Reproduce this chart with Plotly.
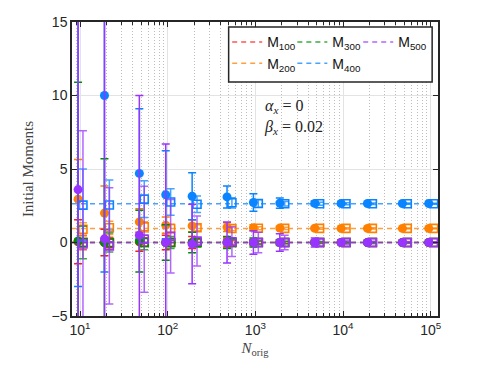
import plotly.graph_objects as go

# sample sizes
N = [10, 20, 50, 100, 200, 500, 1000, 2000, 5000, 10000, 20000, 50000, 100000]

# true moment values (dashed lines)
true_vals = {"100": 0.0, "200": 0.96, "300": 0.0, "400": 2.64, "500": 0.0}

# filled circles: mean estimate and error
circ_100 = [0.05, 0.0, 0.05, 0.0, 0.0, 0.0, 0.0, 0.0, 0.0, 0.0, 0.0, 0.0, 0.0]
circ_err_100 = [1.5, 0.9, 0.65, 0.5, 0.4, 0.3, 0.2, 0.15, 0.1, 0.07, 0.05, 0.03, 0.02]
circ_200 = [2.95, 2.0, 1.4, 1.18, 1.13, 1.05, 1.0, 0.98, 0.97, 0.96, 0.96, 0.96, 0.96]
circ_err_200 = [2.7, 1.85, 0.9, 0.55, 0.4, 0.3, 0.2, 0.12, 0.08, 0.05, 0.04, 0.03, 0.02]
circ_300 = [0.1, 0.0, 0.1, 0.0, 0.0, 0.0, 0.0, 0.0, 0.0, 0.0, 0.0, 0.0, 0.0]
circ_err_300 = [10.8, 5.7, 2.1, 1.2, 0.7, 0.4, 0.3, 0.2, 0.1, 0.07, 0.05, 0.03, 0.02]
circ_400 = [22.0, 10.0, 4.7, 3.25, 3.15, 3.1, 2.72, 2.68, 2.66, 2.65, 2.65, 2.65, 2.65]
circ_err_400 = [25.0, 12.0, 4.4, 3.0, 1.6, 0.75, 0.6, 0.35, 0.15, 0.1, 0.07, 0.05, 0.03]
circ_500 = [3.6, 0.25, 0.5, 0.0, -0.1, 0.0, 0.0, 0.0, 0.0, 0.0, 0.0, 0.0, 0.0]
circ_err_500 = [40.0, 25.0, 9.5, 6.7, 2.7, 1.4, 0.8, 0.6, 0.3, 0.15, 0.1, 0.07, 0.05]

# open squares: estimate and error
sq_100 = [0.0, -0.05, 0.02, 0.0, 0.0, 0.0, 0.0, 0.0, 0.0, 0.0, 0.0, 0.0, 0.0]
sq_err_100 = [0.5, 0.4, 0.3, 0.25, 0.2, 0.12, 0.08, 0.06, 0.04, 0.03, 0.02, 0.02, 0.01]
sq_200 = [0.9, 1.0, 1.06, 0.95, 1.0, 0.95, 0.97, 0.96, 0.96, 0.96, 0.96, 0.96, 0.96]
sq_err_200 = [0.45, 0.45, 0.35, 0.3, 0.2, 0.15, 0.1, 0.08, 0.06, 0.05, 0.04, 0.03, 0.02]
sq_300 = [0.0, 0.0, 0.0, 0.0, 0.0, 0.0, 0.0, 0.0, 0.0, 0.0, 0.0, 0.0, 0.0]
sq_err_300 = [1.1, 0.65, 0.5, 0.4, 0.3, 0.2, 0.12, 0.08, 0.06, 0.04, 0.03, 0.02, 0.02]
sq_400 = [2.54, 2.55, 2.95, 2.76, 2.6, 2.7, 2.65, 2.64, 2.64, 2.64, 2.64, 2.64, 2.64]
sq_err_400 = [2.46, 1.7, 1.25, 0.9, 0.56, 0.35, 0.25, 0.15, 0.1, 0.07, 0.05, 0.04, 0.03]
sq_500 = [-0.1, -0.23, 0.22, 0.43, 0.1, 0.05, 0.0, 0.0, 0.0, 0.0, 0.0, 0.0, 0.0]
sq_err_500 = [7.7, 3.95, 3.6, 2.5, 1.7, 1.0, 0.7, 0.5, 0.25, 0.12, 0.08, 0.06, 0.04]

x_ticks = [10, 100, 1000, 10000, 100000]
x_tick_text = ["10<sup>1</sup>", "10<sup>2</sup>", "10<sup>3</sup>", "10<sup>4</sup>", "10<sup>5</sup>"]
y_ticks = [-5, 0, 5, 10, 15]
x_lim = [8.1, 1.21e5]

colors = {"100": "#FF1A1A", "200": "#FF8000", "300": "#008C00", "400": "#0A84FF", "500": "#9933FF"}
light = {"100": "rgba(255,26,26,0.75)", "200": "rgba(255,128,0,0.75)", "300": "rgba(0,140,0,0.75)",
         "400": "rgba(10,132,255,0.75)", "500": "rgba(153,51,255,0.75)"}
# legend columns: (M100, M200) (M300, M400) (M500)
legend_of = {"100": "legend", "200": "legend", "300": "legend2", "400": "legend2", "500": "legend3"}

circ = {"100": (circ_100, circ_err_100), "200": (circ_200, circ_err_200), "300": (circ_300, circ_err_300),
        "400": (circ_400, circ_err_400), "500": (circ_500, circ_err_500)}
sq = {"100": (sq_100, sq_err_100), "200": (sq_200, sq_err_200), "300": (sq_300, sq_err_300),
      "400": (sq_400, sq_err_400), "500": (sq_500, sq_err_500)}

x_circ = [n * 0.95 for n in N]
x_sq = [n * 1.08 for n in N]

fig = go.Figure()

# dashed true-value lines (also the legend entries)
for k in ["100", "200", "300", "400", "500"]:
    fig.add_trace(go.Scatter(
        x=x_lim, y=[true_vals[k]] * 2, mode="lines",
        line=dict(color=light[k], width=1.5, dash="5px,4px"),
        name=f"M<sub>{k}</sub>", legend=legend_of[k],
    ))

for k in ["100", "200", "300", "400", "500"]:
    vals, errs = circ[k]
    fig.add_trace(go.Scatter(
        x=x_circ, y=vals, mode="markers", showlegend=False,
        marker=dict(symbol="circle", size=9, color=colors[k]),
        error_y=dict(type="data", array=errs, color=colors[k], thickness=1.5, width=4),
    ))
    vals, errs = sq[k]
    fig.add_trace(go.Scatter(
        x=x_sq, y=vals, mode="markers", showlegend=False,
        marker=dict(symbol="square-open", size=8, color=colors[k], line=dict(width=1.6)),
        error_y=dict(type="data", array=errs, color=light[k], thickness=1.5, width=4),
    ))

# legend frame
fig.add_shape(type="rect", xref="x domain", yref="y domain", x0=0.428, x1=0.984, y0=0.796, y1=0.983,
              line=dict(color="#262626", width=1.5), fillcolor="white", layer="above")

fig.add_annotation(
    xref="x domain", yref="y domain", x=0.52, y=0.677, xanchor="left", yanchor="middle",
    text="<i>α<sub>x</sub></i> = 0<br><i>β<sub>x</sub></i> = 0.02", align="left", showarrow=False,
    font=dict(family="Liberation Serif", size=16, color="#222"),
)

minor_vals = [m * 10 ** d for d in range(0, 6) for m in range(2, 10)]

fig.update_xaxes(
    type="log", range=[0.9085, 5.083],
    tickvals=x_ticks, ticktext=x_tick_text,
    ticks="inside", ticklen=5, tickwidth=1, tickcolor="#262626",
    showline=True, linecolor="#262626", linewidth=1.5, mirror="allticks",
    showgrid=True, gridcolor="#E3E3E3", gridwidth=1,
    minor=dict(tickvals=minor_vals, ticks="inside", ticklen=3, tickcolor="#262626",
               showgrid=True, gridcolor="#BDBDBD", griddash="1px,2px", gridwidth=1),
    tickfont=dict(family="Liberation Sans", size=14, color="#262626"),
    title=dict(text="<i>N</i><sub>orig</sub>", font=dict(family="Liberation Serif", size=15, color="#444"),
               standoff=6),
)
fig.update_yaxes(
    range=[-5, 15], tickvals=y_ticks,
    ticks="inside", ticklen=5, tickwidth=1, tickcolor="#262626",
    showline=True, linecolor="#262626", linewidth=1.5, mirror="allticks",
    showgrid=True, gridcolor="#E3E3E3", gridwidth=1, zeroline=False,
    tickfont=dict(family="Liberation Sans", size=14, color="#262626"),
    title=dict(text="Initial Moments", font=dict(family="Liberation Serif", size=15, color="#444"),
               standoff=14),
)

leg = dict(yanchor="top", xanchor="left", y=0.985, bgcolor="rgba(0,0,0,0)", borderwidth=0,
           font=dict(family="Liberation Sans", size=14, color="#111"), itemwidth=30, tracegroupgap=0)

# the page body has an 8px margin, so the figure is shrunk to keep the plot in place
fig.update_layout(
    width=485, height=373,
    margin=dict(l=64, r=55, t=14, b=65, autoexpand=False),
    paper_bgcolor="white", plot_bgcolor="white",
    legend=dict(leg, x=0.424),
    legend2=dict(leg, x=0.602),
    legend3=dict(leg, x=0.782),
)

fig.write_html("out.html")
